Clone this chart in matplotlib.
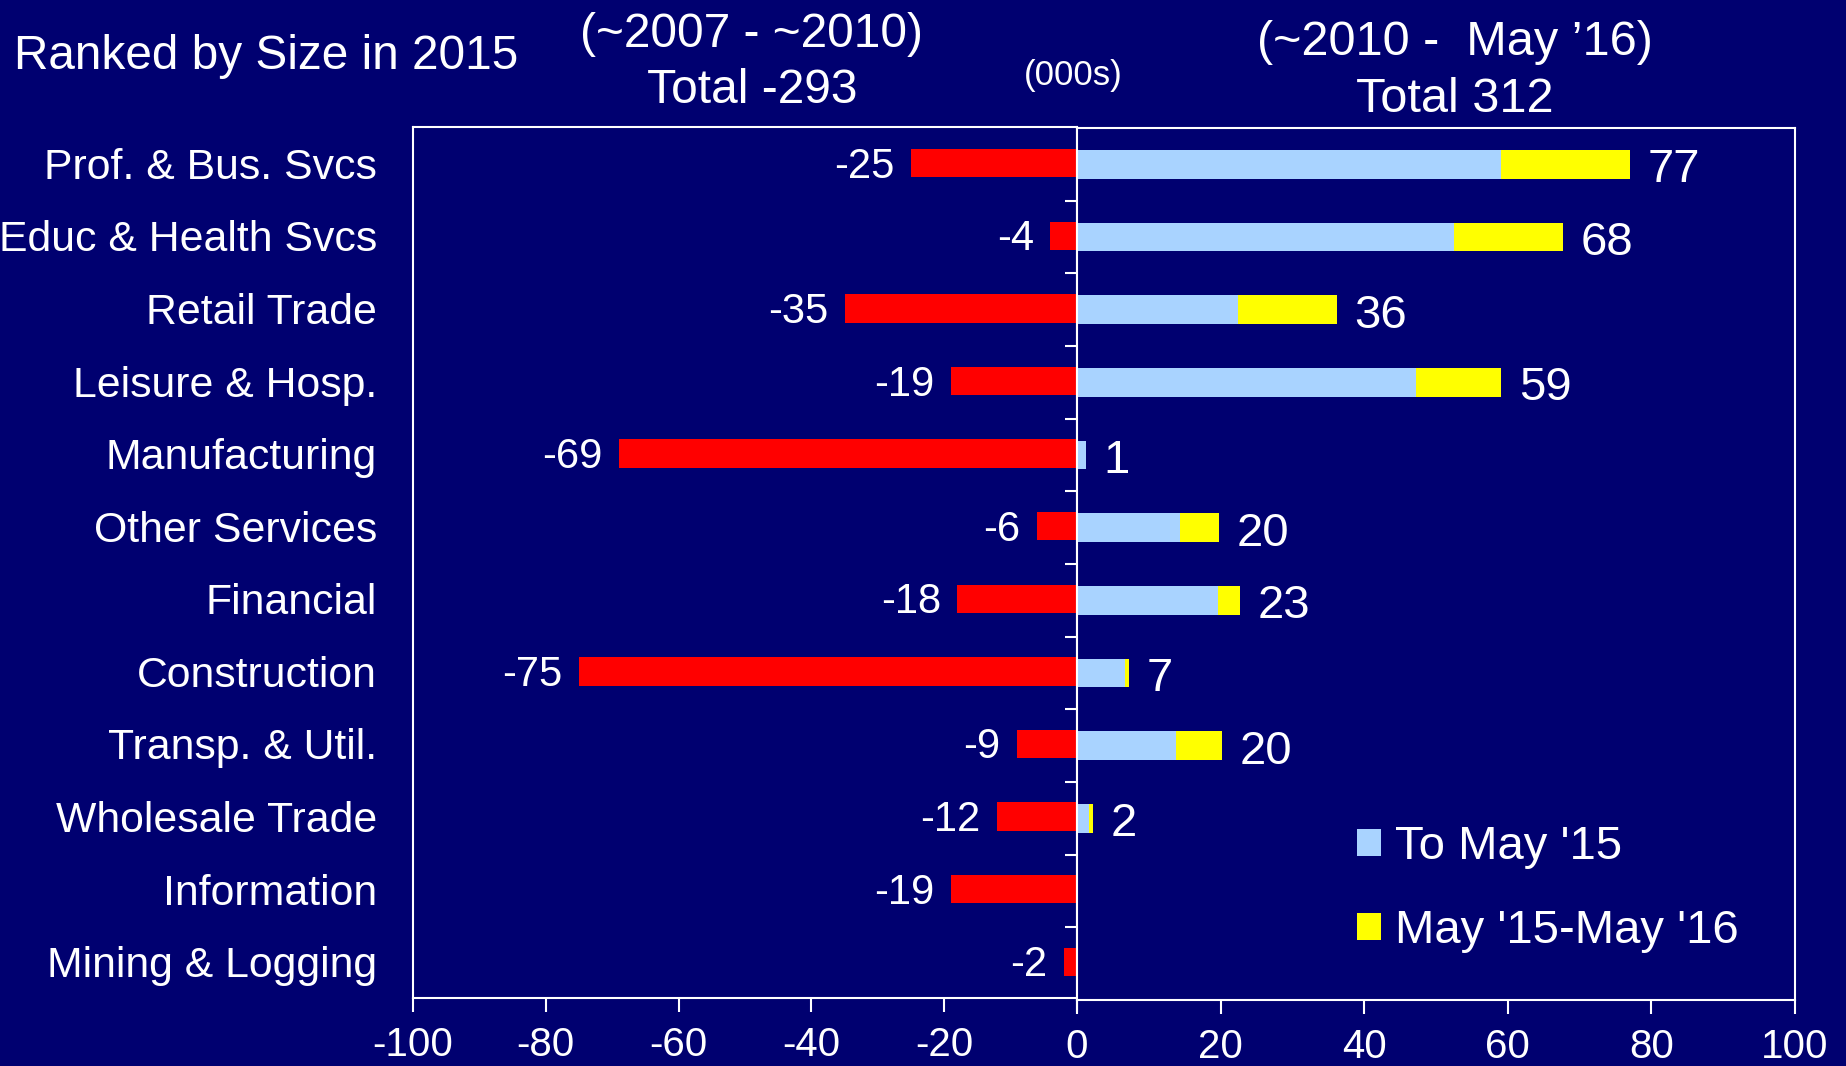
import matplotlib
matplotlib.use("Agg")
import matplotlib.pyplot as plt
import numpy as np

plt.rcParams["font.family"] = ["Liberation Sans", "DejaVu Sans"]

# ---------------- data ----------------
categories = ["Prof. & Bus. Svcs", "Educ & Health Svcs", "Retail Trade",
              "Leisure & Hosp.", "Manufacturing", "Other Services", "Financial",
              "Construction", "Transp. & Util.", "Wholesale Trade", "Information",
              "Mining & Logging"]
decline_2007_2010 = [-25, -4, -35, -19, -69, -6, -18, -75, -9, -12, -19, -2]
gain_to_may15 = [59, 52.5, 22.4, 47.2, 1.2, 14.3, 19.7, 6.7, 13.8, 1.7, 0, 0]
gain_may15_may16 = [18, 15.2, 13.8, 11.9, 0, 5.5, 3.0, 0.6, 6.4, 0.5, 0, 0]
recovery_totals = [77, 68, 36, 59, 1, 20, 23, 7, 20, 2, None, None]
left_ticks = [-100, -80, -60, -40, -20, 0]
left_tick_labels = ["-100", "-80", "-60", "-40", "-20", ""]
right_ticks = [0, 20, 40, 60, 80, 100]
right_tick_labels = ["0", "20", "40", "60", "80", "100"]

# ---------------- style ----------------
NAVY = "#000070"
RED = "#FF0000"
LBLUE = "#A9D3FF"
YELLOW = "#FFFF00"
W, H = 1846, 1066

fig = plt.figure(figsize=(W / 100, H / 100), dpi=100, facecolor=NAVY)

axL = fig.add_axes([413 / W, 1 - 998 / H, 664 / W, 871 / H])
axR = fig.add_axes([1077 / W, 1 - 1000 / H, 718 / W, 872 / H])

y = np.arange(len(categories))
bh = 0.39

axL.barh(y, decline_2007_2010, height=bh, color=RED, linewidth=0)
axR.barh(y, gain_to_may15, height=bh, color=LBLUE, linewidth=0, label="To May '15")
axR.barh(y, gain_may15_may16, left=gain_to_may15, height=bh, color=YELLOW,
         linewidth=0, label="May '15-May '16")

for i, v in enumerate(decline_2007_2010):
    axL.annotate(f"{v}", xy=(v, i), xytext=(-12, -2.5), textcoords="offset points",
                 ha="right", va="center", fontsize=30, color="white")

for i, tot in enumerate(recovery_totals):
    if tot is None:
        continue
    end = gain_to_may15[i] + gain_may15_may16[i]
    axR.annotate(f"{tot}", xy=(end, i), xytext=(12.5, -4.2), textcoords="offset points",
                 ha="left", va="center", fontsize=34, color="white")

for ax in (axL, axR):
    ax.set_facecolor(NAVY)
    ax.set_ylim(len(categories) - 0.5, -0.5)
    for s in ax.spines.values():
        s.set_color("white")
        s.set_linewidth(1.5)
    ax.tick_params(axis="x", colors="white", labelcolor="white", labelsize=29,
                   direction="out", length=10, width=1.5, pad=10)

axL.set_xlim(-100, 0)
axL.set_xticks(left_ticks)
axL.set_xticklabels(left_tick_labels)
axL.set_yticks(y)
axL.set_yticklabels(categories)
axL.tick_params(axis="y", length=0, pad=26, labelsize=30.8, labelcolor="white")

axR.set_xlim(0, 100)
axR.set_xticks(right_ticks)
axR.set_xticklabels(right_tick_labels)
axR.set_yticks(np.arange(0.5, len(categories) - 0.5, 1))
axR.set_yticklabels([])
axR.tick_params(axis="y", colors="white", direction="out", length=8.6, width=1.5)

# ---------------- titles ----------------
def ft(px, py, s, size, ha="center"):
    fig.text(px / W, 1 - py / H, s, ha=ha, va="baseline", fontsize=size, color="white")

ft(14, 69, "Ranked by Size in 2015", 34.4, ha="left")
ft(752, 47, "(~2007 - ~2010)", 34.5)
ft(752, 103, "Total -293", 34.5)
ft(1073, 85, "(000s)", 25)
ft(1455, 55, "(~2010 -  May \u201916)", 35)
ft(1455, 112, "Total 312", 35)

# ---------------- legend ----------------
leg = axR.legend(loc="upper left", bbox_to_anchor=(1357 / W, 1 - 825 / H),
                 bbox_transform=fig.transFigure, frameon=False, fontsize=34,
                 handlelength=0.5, handleheight=0.5, handletextpad=0.3,
                 labelspacing=0.85, borderpad=0, borderaxespad=0)
for t in leg.get_texts():
    t.set_color("white")

fig.savefig("out.png", dpi=100, facecolor=NAVY)
